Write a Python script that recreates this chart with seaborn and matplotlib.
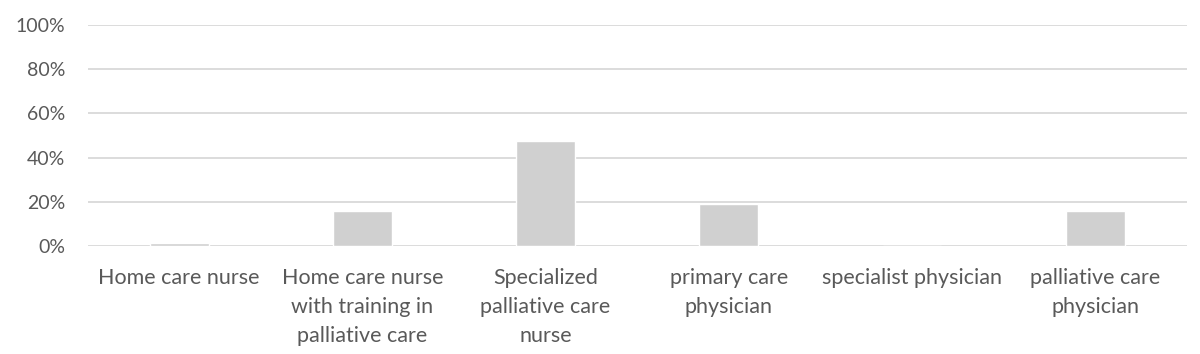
import pandas as pd
import seaborn as sns
import matplotlib.pyplot as plt
from matplotlib.ticker import PercentFormatter

categories = [
    "Home care nurse",
    "Home care nurse\nwith training in\npalliative care",
    "Specialized\npalliative care\nnurse",
    "primary care\nphysician",
    "specialist physician",
    "palliative care\nphysician",
]
shares = [1.2, 15.8, 47.5, 19.0, 0.0, 15.8]

df = pd.DataFrame({"category": categories, "share": shares})

sns.set_style("white")
plt.rcParams["font.family"] = ["Lato", "DejaVu Sans"]

fig = plt.figure(figsize=(12, 3.54), dpi=100)
ax = fig.add_axes([0.073, 0.305, 0.916, 0.624])

sns.barplot(data=df, x="category", y="share", color="#d0d0d0", width=0.32,
            saturation=1, ax=ax, zorder=3)

ax.set_ylim(0, 100)
ax.set_xlim(-0.5, 5.5)
ax.set_yticks(range(0, 101, 20))
ax.yaxis.set_major_formatter(PercentFormatter(decimals=0))
ax.grid(axis="y", color="#d9d9d9", linewidth=1.3, zorder=0)
ax.set_axisbelow(True)
for s in ax.spines.values():
    s.set_visible(False)
ax.set_xlabel("")
ax.set_ylabel("")
ax.tick_params(axis="y", length=0, pad=16, labelsize=14, labelcolor="#595959")
ax.tick_params(axis="x", length=0, pad=16, labelsize=15.5, labelcolor="#595959")
for lab in ax.get_xticklabels():
    lab.set_linespacing(1.55)
    lab.set_multialignment("center")

fig.savefig("out.png", dpi=100)
